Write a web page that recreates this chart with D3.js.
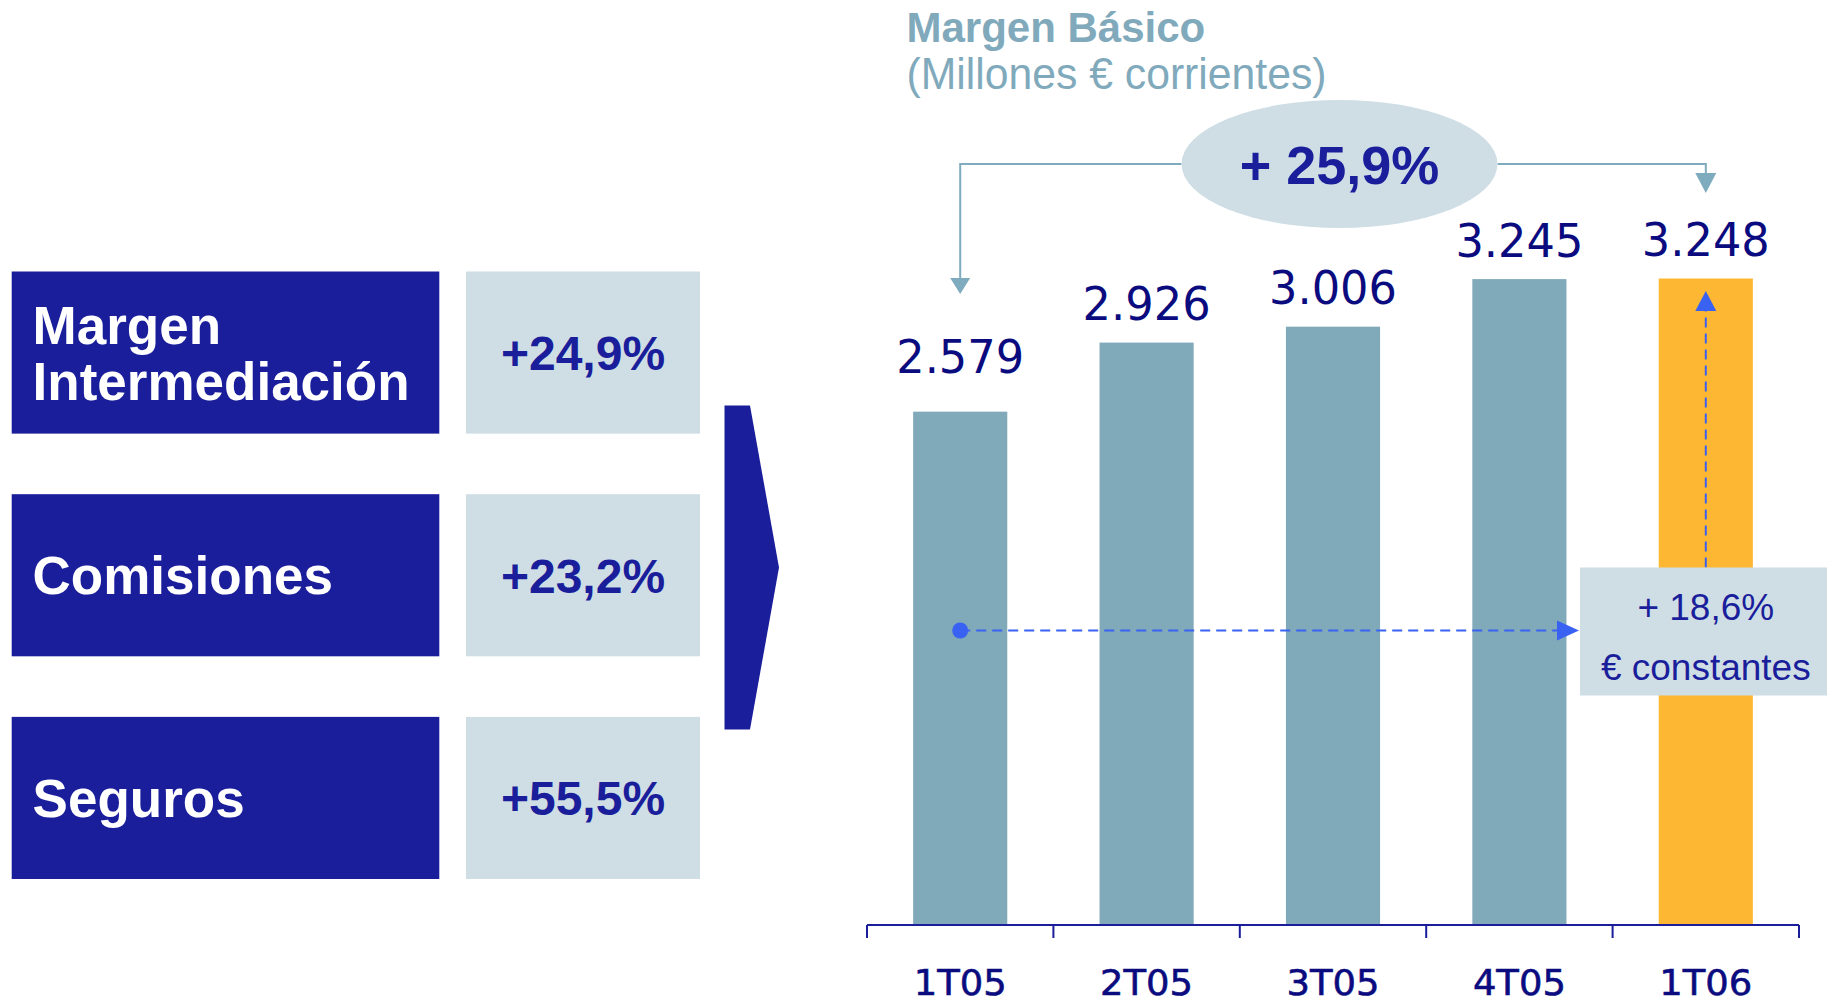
<!DOCTYPE html>
<html>
<head>
<meta charset="utf-8">
<script src="https://d3js.org/d3.v7.min.js"></script>
<style>
  body { margin: 0; background: #fff; }
</style>
</head>
<body>
<div class="dataviz"></div>
<script>
// Margen Basico - quarterly bars with growth call-outs

// data
var categories = ["1T05", "2T05", "3T05", "4T05", "1T06"];
var values = [2579, 2926, 3006, 3245, 3248];
var drivers = ["Margen\nIntermediación", "Comisiones", "Seguros"];
var driverGrowth = ["+24,9%", "+23,2%", "+55,5%"];
var totalGrowth = "+ 25,9%";
var constantGrowth = ["+ 18,6%", "€ constantes"];
var title = "Margen Básico";
var subtitle = "(Millones € corrientes)";

var width = 1827, height = 1003;
var navy = "#1a1e9b", ink = "#0b0b80", steel = "#80a9ba", pale = "#cfdee5", gold = "#fdb733", blue = "#3a62f2";

var canvas = d3.select(".dataviz").append("svg")
  .attr("width", width)
  .attr("height", height);

canvas.append("rect")
  .attr("width", width)
  .attr("height", height)
  .attr("fill", "#fff");

// ---- left panel ----
var left = canvas.append("g");
var rowY = d3.scaleBand().domain(d3.range(drivers.length)).range([271.5, 879]).paddingInner(0.272);

left.selectAll("rect.lab").data(drivers).enter().append("rect")
  .attr("class", "lab")
  .attr("x", 11.7)
  .attr("y", function(d, i) { return rowY(i); })
  .attr("width", 427.6)
  .attr("height", rowY.bandwidth())
  .attr("fill", navy);

left.selectAll("rect.val").data(driverGrowth).enter().append("rect")
  .attr("class", "val")
  .attr("x", 466)
  .attr("y", function(d, i) { return rowY(i); })
  .attr("width", 234)
  .attr("height", rowY.bandwidth())
  .attr("fill", pale);

left.selectAll("text.lab").data(drivers).enter().append("text")
  .attr("class", "lab")
  .attr("x", 32.6)
  .attr("y", function(d, i) {
    var lines = d.split("\n").length;
    return rowY(i) + rowY.bandwidth() / 2 + 19 - (lines - 1) * 28;
  })
  .attr("fill", "#fff")
  .attr("font-family", "Liberation Sans, Arial, sans-serif")
  .attr("font-weight", "bold")
  .attr("font-size", 53)
  .each(function(d) {
    var t = d3.select(this);
    d.split("\n").forEach(function(line, k) {
      t.append("tspan").attr("x", 32.6).attr("dy", k === 0 ? 0 : 56).text(line);
    });
  });

left.selectAll("text.val").data(driverGrowth).enter().append("text")
  .attr("class", "val")
  .attr("x", 583)
  .attr("y", function(d, i) { return rowY(i) + rowY.bandwidth() / 2 + 17.5; })
  .attr("text-anchor", "middle")
  .attr("fill", navy)
  .attr("font-family", "Liberation Sans, Arial, sans-serif")
  .attr("font-weight", "bold")
  .attr("font-size", 48)
  .text(function(d) { return d; });

// big chevron
left.append("path")
  .attr("d", "M724.5,405.5 L750,405.5 L779,567.5 L750,729.5 L724.5,729.5 Z")
  .attr("fill", navy);

// ---- bar chart ----
var x = d3.scaleBand().domain(categories).range([867, 1799]);
var y = d3.scaleLinear().domain([0, d3.max(values)]).range([925, 278.5]);
var barW = x.bandwidth() * 0.505;
var fmt = d3.formatLocale({decimal: ",", thousands: ".", grouping: [3], currency: ["", "€"]}).format(",d");

var paint = canvas.append("g");

paint.selectAll("rect.bar").data(values).enter().append("rect")
  .attr("class", "bar")
  .attr("x", function(d, i) { return x(categories[i]) + (x.bandwidth() - barW) / 2; })
  .attr("y", function(d) { return y(d); })
  .attr("width", barW)
  .attr("height", function(d) { return y(0) - y(d); })
  .attr("fill", function(d, i) { return i === values.length - 1 ? gold : steel; });

paint.selectAll("text.num").data(values).enter().append("text")
  .attr("class", "num")
  .attr("x", function(d, i) { return x(categories[i]) + x.bandwidth() / 2; })
  .attr("y", function(d, i) { return y(d) - (i === 0 ? 38.5 : 22.5); })
  .attr("text-anchor", "middle")
  .attr("fill", ink)
  .attr("font-family", "DejaVu Sans, Verdana, sans-serif")
  .attr("font-size", 47)
  .attr("textLength", 128)
  .attr("lengthAdjust", "spacingAndGlyphs")
  .text(function(d) { return fmt(d); });

// axis: baseline, boundary ticks, labels
var axis = canvas.append("g").attr("transform", "translate(0," + y(0) + ")");
axis.append("line")
  .attr("x1", x.range()[0]).attr("x2", x.range()[1])
  .attr("stroke", navy).attr("stroke-width", 2);
axis.selectAll("line.tick").data(categories.concat(["end"])).enter().append("line")
  .attr("class", "tick")
  .attr("x1", function(d) { return d === "end" ? x.range()[1] : x(d); })
  .attr("x2", function(d) { return d === "end" ? x.range()[1] : x(d); })
  .attr("y1", 0).attr("y2", 13)
  .attr("stroke", navy).attr("stroke-width", 2);
axis.selectAll("text").data(categories).enter().append("text")
  .attr("x", function(d) { return x(d) + x.bandwidth() / 2; })
  .attr("y", 70)
  .attr("text-anchor", "middle")
  .attr("fill", ink)
  .attr("stroke", ink)
  .attr("stroke-width", 0.6)
  .attr("font-family", "DejaVu Sans, Verdana, sans-serif")
  .attr("font-size", 36)
  .attr("textLength", 93)
  .attr("lengthAdjust", "spacingAndGlyphs")
  .text(function(d) { return d; });

// titles
canvas.append("text")
  .attr("x", 906.5).attr("y", 41.5)
  .attr("fill", "#80aabc")
  .attr("font-family", "Liberation Sans, Arial, sans-serif")
  .attr("font-weight", "bold")
  .attr("font-size", 42)
  .text(title);
canvas.append("text")
  .attr("x", 906.5).attr("y", 89)
  .attr("fill", "#80aabc")
  .attr("font-family", "Liberation Sans, Arial, sans-serif")
  .attr("font-size", 45)
  .attr("textLength", 420)
  .attr("lengthAdjust", "spacingAndGlyphs")
  .text(subtitle);

// total growth bracket
var first = x(categories[0]) + x.bandwidth() / 2;
var last = x(categories[categories.length - 1]) + x.bandwidth() / 2;
var ell = {cx: 1339.5, cy: 164, rx: 158, ry: 64};

canvas.append("path")
  .attr("d", "M" + (ell.cx - ell.rx) + "," + ell.cy + " H" + first + " V280")
  .attr("fill", "none").attr("stroke", "#7fabbf").attr("stroke-width", 2);
canvas.append("path")
  .attr("d", "M" + (first - 10) + ",278 L" + (first + 10) + ",278 L" + first + ",294 Z")
  .attr("fill", "#7fabbf");
canvas.append("path")
  .attr("d", "M" + (ell.cx + ell.rx) + "," + ell.cy + " H" + last + " V175")
  .attr("fill", "none").attr("stroke", "#7fabbf").attr("stroke-width", 2);
canvas.append("path")
  .attr("d", "M" + (last - 10.5) + ",173 L" + (last + 10.5) + ",173 L" + last + ",193 Z")
  .attr("fill", "#7fabbf");

canvas.append("ellipse")
  .attr("cx", ell.cx).attr("cy", ell.cy).attr("rx", ell.rx).attr("ry", ell.ry)
  .attr("fill", pale);
canvas.append("text")
  .attr("x", ell.cx).attr("y", 184)
  .attr("text-anchor", "middle")
  .attr("fill", navy)
  .attr("font-family", "Liberation Sans, Arial, sans-serif")
  .attr("font-weight", "bold")
  .attr("font-size", 54)
  .text(totalGrowth);

// constant euro call-out
var boxX = 1580, boxY = 567.5, boxH = 128;
canvas.append("line")
  .attr("x1", first).attr("x2", boxX - 20)
  .attr("y1", 630.5).attr("y2", 630.5)
  .attr("stroke", blue).attr("stroke-width", 2).attr("stroke-dasharray", "10,6");
canvas.append("path")
  .attr("d", "M" + (boxX - 23) + ",620.5 L" + (boxX - 1) + ",630.5 L" + (boxX - 23) + ",640.5 Z")
  .attr("fill", blue);
canvas.append("circle")
  .attr("cx", first).attr("cy", 630.5).attr("r", 8)
  .attr("fill", blue);

canvas.append("line")
  .attr("x1", last).attr("x2", last)
  .attr("y1", boxY).attr("y2", 310)
  .attr("stroke", blue).attr("stroke-width", 2).attr("stroke-dasharray", "10,6");
canvas.append("path")
  .attr("d", "M" + (last - 10.5) + ",311 L" + last + ",291 L" + (last + 10.5) + ",311 Z")
  .attr("fill", blue);

canvas.append("rect")
  .attr("x", boxX).attr("y", boxY)
  .attr("width", width - boxX).attr("height", boxH)
  .attr("fill", pale);
canvas.selectAll("text.const").data(constantGrowth).enter().append("text")
  .attr("class", "const")
  .attr("x", last)
  .attr("y", function(d, i) { return 619.5 + i * 60; })
  .attr("text-anchor", "middle")
  .attr("fill", navy)
  .attr("font-family", "Liberation Sans, Arial, sans-serif")
  .attr("font-size", 37)
  .text(function(d) { return d; });
</script>
</body>
</html>
